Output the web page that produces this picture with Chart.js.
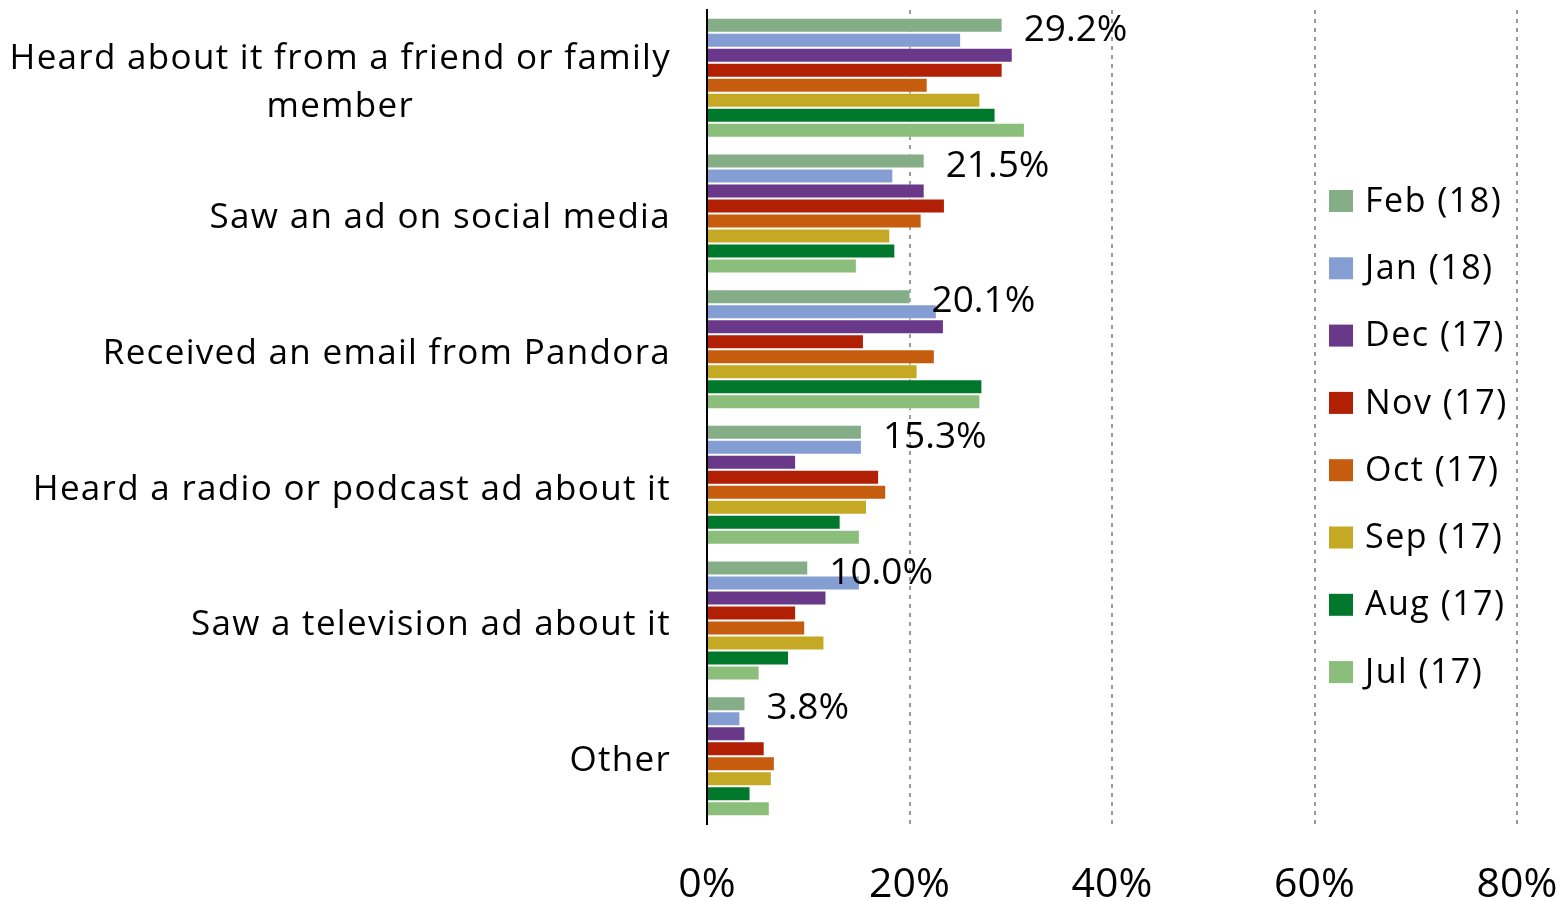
<!DOCTYPE html>
<html>
<head>
<meta charset="utf-8">
<script src="https://cdn.jsdelivr.net/npm/chart.js@4.4.1/dist/chart.umd.min.js"></script>
<style>
  html, body { margin: 0; padding: 0; background: #fff; }
  #wrap { width: 1566px; height: 901px; position: relative; }
</style>
</head>
<body>
<div id="wrap"><canvas id="chart"></canvas></div>
<script>
// categories (first one wraps on two lines)
const categories = [
    ["Heard about it from a friend or family", "member"],
    "Saw an ad on social media",
    "Received an email from Pandora",
    "Heard a radio or podcast ad about it",
    "Saw a television ad about it",
    "Other"
];
const seriesNames = ["Feb (18)", "Jan (18)", "Dec (17)", "Nov (17)", "Oct (17)", "Sep (17)", "Aug (17)", "Jul (17)"];
const seriesColors = ["#84AD88", "#849DD3", "#6A3889", "#B11F05", "#C55C0E", "#C5A823", "#00782B", "#8BBE7A"];

// percent values, one array per month
const feb18 = [29.2, 21.5, 20.1, 15.3, 10.0, 3.8];
const jan18 = [25.1, 18.4, 22.7, 15.3, 15.1, 3.3];
const dec17 = [30.2, 21.5, 23.4, 8.8, 11.8, 3.8];
const nov17 = [29.2, 23.5, 15.5, 17.0, 8.8, 5.7];
const oct17 = [21.8, 21.2, 22.5, 17.7, 9.7, 6.7];
const sep17 = [27.0, 18.1, 20.8, 15.8, 11.6, 6.4];
const aug17 = [28.5, 18.6, 27.2, 13.2, 8.1, 4.3];
const jul17 = [31.4, 14.8, 27.0, 15.1, 5.2, 6.2];
const seriesValues = [feb18, jan18, dec17, nov17, oct17, sep17, aug17, jul17];

const xTicks = [0, 20, 40, 60, 80];

const FONT = "'Open Sans'";

// category labels: block right aligned, lines centred inside the block
const categoryLabels = {
    id: 'categoryLabels',
    afterDraw(chart) {
        const ctx = chart.ctx;
        const yScale = chart.scales.y;
        ctx.save();
        ctx.font = "35px " + FONT;
        ctx.letterSpacing = "1.3px";
        ctx.fillStyle = "#000";
        ctx.textBaseline = "middle";
        ctx.textAlign = "center";
        categories.forEach((lab, i) => {
            const lines = Array.isArray(lab) ? lab : [lab];
            const w = Math.max(...lines.map(l => ctx.measureText(l).width));
            const cx = 671 - w / 2;
            const yc = yScale.getPixelForValue(i) + 5;
            const lh = 48;
            lines.forEach((l, j) => {
                ctx.fillText(l, cx, yc + (j - (lines.length - 1) / 2) * lh);
            });
        });
        ctx.restore();
    }
};

// value label next to the Feb (18) bar
const valueLabels = {
    id: 'valueLabels',
    afterDatasetsDraw(chart) {
        const ctx = chart.ctx;
        const meta = chart.getDatasetMeta(0);
        ctx.save();
        ctx.font = "37px " + FONT;
        ctx.fillStyle = "#000";
        ctx.textBaseline = "middle";
        ctx.textAlign = "left";
        meta.data.forEach((bar, i) => {
            ctx.fillText(feb18[i].toFixed(1) + "%", bar.x + 21, bar.y + 5);
        });
        ctx.restore();
    }
};

// legend drawn inside the plot area between 60% and 80%
const sideLegend = {
    id: 'sideLegend',
    afterDraw(chart) {
        const ctx = chart.ctx;
        ctx.save();
        ctx.font = "34px " + FONT;
        ctx.letterSpacing = "1.5px";
        ctx.textBaseline = "middle";
        ctx.textAlign = "left";
        chart.data.datasets.forEach((ds, i) => {
            const y = 201 + i * 67.3;
            ctx.fillStyle = ds.backgroundColor;
            ctx.fillRect(1329, y - 11, 24, 22);
            ctx.fillStyle = "#000";
            ctx.fillText(ds.label, 1365, y + 1);
        });
        ctx.restore();
    }
};

const ctx = document.getElementById('chart').getContext('2d');
new Chart(ctx, {
    type: 'bar',
    data: {
        labels: categories,
        datasets: seriesNames.map((name, i) => ({
            label: name,
            data: seriesValues[i],
            backgroundColor: seriesColors[i],
            borderColor: 'rgba(255,255,255,0.5)',
            borderWidth: 1,
            categoryPercentage: 0.884,
            barPercentage: 1.0
        }))
    },
    options: {
        indexAxis: 'y',
        responsive: true,
        maintainAspectRatio: false,
        animation: false,
        layout: { padding: { top: 10, right: 49, bottom: 0, left: 0 } },
        plugins: {
            legend: { display: false },
            tooltip: { enabled: false }
        },
        scales: {
            x: {
                min: 0,
                max: 80,
                afterBuildTicks: s => { s.ticks = xTicks.map(v => ({ value: v })); },
                afterFit: s => { s.height = 77; s.paddingLeft = 0; s.paddingRight = 0; },
                border: { display: false, dash: [4, 5] },
                grid: {
                    drawTicks: false,
                    color: c => c.tick && c.tick.value === 0 ? 'rgba(0,0,0,0)' : '#9a9a9a',
                    lineWidth: 2
                },
                ticks: {
                    padding: 37,
                    color: '#000',
                    font: { family: "Open Sans", size: 41 },
                    callback: v => v + '%'
                }
            },
            y: {
                afterFit: s => { s.width = 707; },
                border: { display: true, color: '#000', width: 2 },
                grid: { display: false },
                ticks: { display: false }
            }
        }
    },
    plugins: [categoryLabels, valueLabels, sideLegend]
});
</script>
</body>
</html>
